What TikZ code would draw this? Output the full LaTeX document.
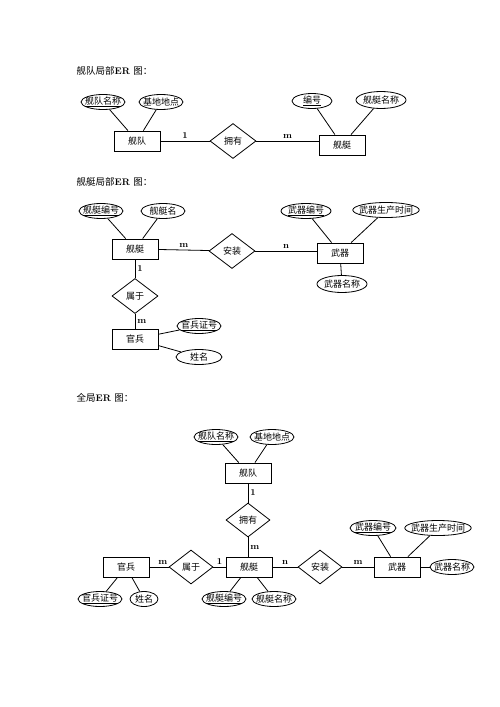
\documentclass[tikz,border=0pt]{standalone}
\usepackage{fontspec}
\newfontfamily\cjk{Noto Sans CJK SC}
\usetikzlibrary{positioning, shapes.geometric}

\begin{document}
\begin{tikzpicture}[x=1pt, y=-1pt, line width=0.8pt]
    \useasboundingbox (0,0) rectangle (500,707);

    % Define styles
    \tikzset{
        entity/.style={draw, rectangle, minimum width=46pt, minimum height=20pt, inner sep=1pt,
            font=\cjk\fontsize{9}{10}\selectfont},
        relation/.style={draw, diamond, minimum width=46pt, minimum height=35pt, inner sep=0pt,
            font=\cjk\fontsize{9}{10}\selectfont},
        attrib/.style={draw, ellipse, minimum width=44pt, minimum height=15pt, inner xsep=-3.5pt, inner ysep=0pt,
            font=\cjk\fontsize{9}{10}\selectfont},
        card/.style={font=\rmfamily\bfseries\fontsize{9}{10}\selectfont, inner sep=2pt},
        title/.style={anchor=west, font=\fontsize{9.5}{11}\selectfont}
    }

    % Titles
    \node[title] (Title1) at (73,71) {{\cjk 舰队局部}\textbf{ER} {\cjk 图：}};
    \node[title] (Title2) at (73,182) {{\cjk 舰艇局部}\textbf{ER} {\cjk 图：}};
    \node[title] (Title3) at (73,398) {{\cjk 全局}\textbf{ER} {\cjk 图：}};

    % Define nodes: fleet part
    \node[entity] (Fleet1) at (137,141) {舰队};
    \node[relation] (Own1) at (233,141) {拥有};
    \node[entity] (Ship1) at (342,145) {舰艇};
    \node[attrib] (FleetName1) at (103,102) {\underline{舰队名称}};
    \node[attrib] (Base1) at (161,102) {基地地点};
    \node[attrib, minimum width=40pt] (ShipNo1) at (312,101) {\underline{编号}};
    \node[attrib, minimum width=50pt, minimum height=17pt] (ShipName1) at (381,100) {舰艇名称};

    % Define nodes: ship part
    \node[entity] (Ship2) at (135,249) {舰艇};
    \node[relation] (Install2) at (232,251) {安装};
    \node[entity] (Weapon2) at (340,253) {武器};
    \node[relation] (Belong2) at (135,296) {属于};
    \node[entity] (Soldier2) at (135,339) {官兵};
    \node[attrib] (ShipNo2) at (101,211) {\underline{舰艇编号}};
    \node[attrib] (ShipName2) at (163,211) {舰艇名};
    \node[attrib, minimum width=50pt] (WeaponNo2) at (306,211) {\underline{武器编号}};
    \node[attrib] (WeaponTime2) at (386,210) {武器生产时间};
    \node[attrib, minimum width=50pt, minimum height=17pt] (WeaponName2) at (342,284) {武器名称};
    \node[attrib] (SoldierNo2) at (199,326) {\underline{官兵证号}};
    \node[attrib, minimum width=46pt] (SoldierName2) at (199,357) {姓名};

    % Define nodes: global
    \node[entity] (Fleet3) at (248,473) {舰队};
    \node[relation, minimum width=44pt, minimum height=34pt] (Own3) at (248,520) {拥有};
    \node[entity] (Ship3) at (249,567) {舰艇};
    \node[relation, minimum width=44pt, minimum height=34pt] (Belong3) at (191,567) {属于};
    \node[entity] (Soldier3) at (126,567) {官兵};
    \node[relation, minimum width=44pt, minimum height=34pt] (Install3) at (320,567) {安装};
    \node[entity] (Weapon3) at (397,567) {武器};
    \node[attrib] (FleetName3) at (216,437) {\underline{舰队名称}};
    \node[attrib] (Base3) at (272,437) {基地地点};
    \node[attrib] (SoldierNo3) at (100,599) {\underline{官兵证号}};
    \node[attrib, minimum width=28pt] (SoldierName3) at (144,599) {姓名};
    \node[attrib] (ShipNo3) at (224,599) {\underline{舰艇编号}};
    \node[attrib] (ShipName3) at (274,599) {舰艇名称};
    \node[attrib, minimum width=46pt] (WeaponNo3) at (373,528) {\underline{武器编号}};
    \node[attrib] (WeaponTime3) at (438,528) {武器生产时间};
    \node[attrib] (WeaponName3) at (452,567) {武器名称};

    % Draw relationships: fleet part
    \draw (FleetName1) -- (Fleet1);
    \draw (Base1) -- (Fleet1);
    \draw (ShipNo1) -- (Ship1);
    \draw (ShipName1) -- (Ship1);
    \draw (Fleet1) -- node[card, above] {1} (Own1);
    \draw (Own1) -- node[card, above] {m} (Own1 -| Ship1.west);

    % Draw relationships: ship part
    \draw (ShipNo2) -- (Ship2);
    \draw (ShipName2) -- (Ship2);
    \draw (WeaponNo2) -- (Weapon2);
    \draw (WeaponTime2) -- (Weapon2);
    \draw (Weapon2) -- (WeaponName2);
    \draw (Ship2) -- node[card, above] {m} (Install2);
    \draw (Install2) -- node[card, above] {n} (Install2 -| Weapon2.west);
    \draw (Ship2) -- node[card, right] {1} (Belong2);
    \draw (Belong2) -- node[card, right] {m} (Soldier2);
    \draw (Soldier2) -- (SoldierNo2);
    \draw (Soldier2) -- (SoldierName2);

    % Draw relationships: global
    \draw (FleetName3) -- (Fleet3);
    \draw (Base3) -- (Fleet3);
    \draw (Fleet3) -- node[card, right] {1} (Own3);
    \draw (Own3) -- node[card, right] {m} (Own3 |- Ship3.north);
    \draw (Soldier3) -- node[card, above, pos=0.7] {m} (Belong3);
    \draw (Belong3) -- node[card, above] {1} (Ship3);
    \draw (Ship3) -- node[card, above] {n} (Install3);
    \draw (Install3) -- node[card, above] {m} (Weapon3);
    \draw (Soldier3) -- (SoldierNo3);
    \draw (Soldier3) -- (SoldierName3);
    \draw (Ship3) -- (ShipNo3);
    \draw (Ship3) -- (ShipName3);
    \draw (Weapon3) -- (WeaponNo3);
    \draw (Weapon3) -- (WeaponTime3);
    \draw (Weapon3) -- (WeaponName3);
\end{tikzpicture}
\end{document}
